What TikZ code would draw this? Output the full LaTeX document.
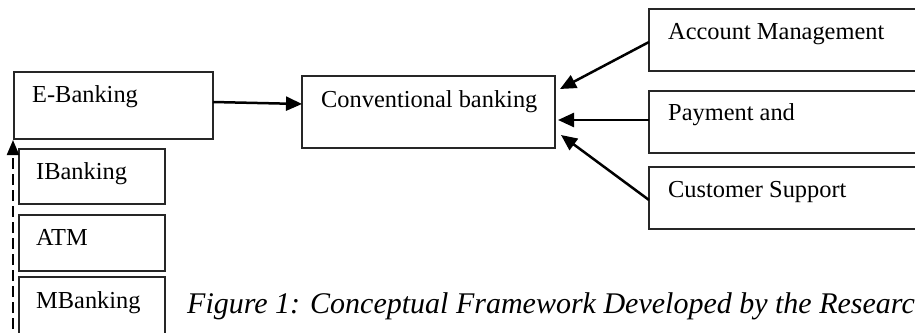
\documentclass[tikz,border=0pt]{standalone}
\usepackage{fontspec}
\setmainfont{Liberation Serif}
\usetikzlibrary{arrows.meta,calc}
\tikzset{
  box/.style={draw=black!85, line width=1.5pt, inner sep=0pt, outer sep=0pt, anchor=north west},
  lbl/.style={inner sep=0pt, anchor=base west, font=\fontsize{24.4}{29}\selectfont},
  arr/.style={line width=2.5pt, -{Triangle[length=16pt,width=14pt]}}
}
\begin{document}
\begin{tikzpicture}[x=1pt,y=-1pt]
\useasboundingbox (0,0) rectangle (915,332);
\clip (0,0) rectangle (915,332);
% left boxes
\node[box, minimum width=199pt, minimum height=67pt] (eb) at (14,72) {};
\node[lbl] (ebt) at (32,102) {E-Banking};
\node[box, minimum width=146pt, minimum height=55pt] (ib) at (19,149) {};
\node[lbl] (ibt) at (36,179) {IBanking};
\node[box, minimum width=146pt, minimum height=56pt] (atm) at (19,215) {};
\node[lbl] (atmt) at (36,245) {ATM};
\node[box, minimum width=146pt, minimum height=70pt] (mb) at (19,277) {};
\node[lbl] (mbt) at (36,308) {MBanking};
% centre
\node[box, minimum width=253pt, minimum height=72pt] (cb) at (302,76) {};
\node[lbl] (cbt) at (321,107) {Conventional banking};
% right boxes
\node[box, minimum width=290pt, minimum height=62pt] (am) at (649,9) {};
\node[lbl] (amt) at (668,39) {Account Management};
\node[box, minimum width=290pt, minimum height=62pt] (pay) at (649,91) {};
\node[lbl] (payt) at (668,120) {Payment and};
\node[box, minimum width=290pt, minimum height=62pt] (cs) at (649,167) {};
\node[lbl] (cst) at (668,197) {Customer Support};
% caption
\node[inner sep=0pt, anchor=base west, font=\fontsize{30}{36}\selectfont\itshape] (cap) at (187,313) {Figure 1: Conceptual Framework Developed by the Research};
% connectors
\draw[arr] ([yshift=3.5pt]eb.east) -- ([yshift=8pt]cb.west);
\draw[arr] ([yshift=-2pt]am.west) -- ([shift={(5pt,23pt)}]cb.east);
\draw[arr] ([yshift=2pt]pay.west) -- ([shift={(3pt,-8pt)}]cb.east);
\draw[arr] ([yshift=-2pt]cs.west) -- ([shift={(6pt,-23pt)}]cb.east);
\coordinate (dbot) at (13,345);
\draw[line width=2.2pt, dash pattern=on 11pt off 5pt, -{Triangle[length=15pt,width=12pt]}] (dbot) -- ([shift={(-1pt,-1pt)}]eb.south west);
\end{tikzpicture}
\end{document}
